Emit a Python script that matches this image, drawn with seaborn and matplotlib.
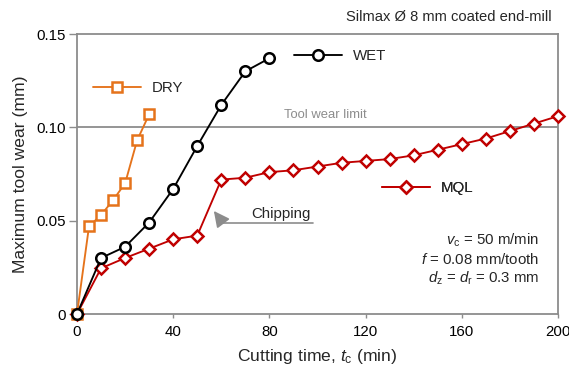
import matplotlib
matplotlib.use("Agg")
import matplotlib.pyplot as plt
import seaborn as sns
import pandas as pd
from matplotlib.lines import Line2D

# ---- data ----
dry_t = [0, 5, 10, 15, 20, 25, 30]
dry_w = [0, 0.047, 0.053, 0.061, 0.070, 0.093, 0.107]

wet_t = [0, 10, 20, 30, 40, 50, 60, 70, 80]
wet_w = [0, 0.030, 0.036, 0.049, 0.067, 0.090, 0.112, 0.130, 0.137]

mql_t = [0, 10, 20, 30, 40, 50, 60, 70, 80, 90, 100, 110, 120, 130, 140, 150,
         160, 170, 180, 190, 200]
mql_w = [0, 0.0245, 0.030, 0.035, 0.040, 0.042, 0.072, 0.073, 0.076, 0.077,
         0.079, 0.081, 0.082, 0.083, 0.085, 0.088, 0.091, 0.094, 0.098, 0.102,
         0.106]

x_ticks = [0, 40, 80, 120, 160, 200]
y_ticks = [0, 0.05, 0.10, 0.15]
y_tick_labels = ["0", "0.05", "0.10", "0.15"]
wear_limit = 0.10

# ---- style ----
sns.set_theme(style="white")
plt.rcParams["font.family"] = ["Liberation Sans", "DejaVu Sans"]
plt.rcParams["mathtext.fontset"] = "custom"
plt.rcParams["mathtext.rm"] = "Liberation Sans"
plt.rcParams["mathtext.it"] = "Liberation Sans:italic"
plt.rcParams["mathtext.bf"] = "Liberation Sans:bold"

ORANGE = "#E5731B"
RED = "#C00000"
BLACK = "#000000"
GRAY = "#8C8C8C"
FS = 10.8

fig = plt.figure(figsize=(5.69, 3.74), dpi=100)
ax = fig.add_axes([77 / 569, 60 / 374, 481 / 569, 280 / 374])

lw = 1.35
mew = 1.8

# tool wear limit line
ax.axhline(wear_limit, color=GRAY, lw=1.3, zorder=1)

df_mql = pd.DataFrame({"t": mql_t, "w": mql_w})
df_dry = pd.DataFrame({"t": dry_t, "w": dry_w})
df_wet = pd.DataFrame({"t": wet_t, "w": wet_w})

sns.lineplot(data=df_mql, x="t", y="w", ax=ax, color=RED, lw=lw, marker="D",
             markersize=6.2, markerfacecolor="white", markeredgecolor=RED,
             markeredgewidth=mew, clip_on=False, zorder=3)
sns.lineplot(data=df_dry, x="t", y="w", ax=ax, color=ORANGE, lw=lw, marker="s",
             markersize=7, markerfacecolor="white", markeredgecolor=ORANGE,
             markeredgewidth=mew, clip_on=False, zorder=4)
sns.lineplot(data=df_wet, x="t", y="w", ax=ax, color=BLACK, lw=lw, marker="o",
             markersize=7.6, markerfacecolor="white", markeredgecolor=BLACK,
             markeredgewidth=mew, clip_on=False, zorder=5)

ax.set_xlim(0, 200)
ax.set_ylim(0, 0.15)
ax.set_xticks(x_ticks)
ax.set_xticklabels([str(v) for v in x_ticks])
ax.set_yticks(y_ticks)
ax.set_yticklabels(y_tick_labels)

for s in ax.spines.values():
    s.set_color(GRAY)
    s.set_linewidth(1.3)
    s.set_visible(True)

ax.tick_params(axis="x", direction="out", length=3, width=1.0, color=GRAY,
               pad=5, labelsize=FS, labelcolor="black", bottom=True)
ax.tick_params(axis="y", direction="out", length=6, width=1.0, color=GRAY,
               pad=2, labelsize=FS, labelcolor="black", left=True)

ax.set_xlabel(r"Cutting time, $t_\mathrm{c}$ (min)", fontsize=12.6, labelpad=6)
ax.set_ylabel("Maximum tool wear (mm)", fontsize=12.6, labelpad=6)

# legends (inline labels)
def inline_legend(color, marker, ms, label, x, y):
    h = Line2D([], [], color=color, lw=lw, marker=marker, markersize=ms,
               markerfacecolor="white", markeredgecolor=color,
               markeredgewidth=mew)
    leg = ax.legend([h], [label], loc="center left", bbox_to_anchor=(x, y),
                    frameon=False, fontsize=FS, handlelength=3.2,
                    handletextpad=0.7, borderpad=0, borderaxespad=0)
    ax.add_artist(leg)

inline_legend(ORANGE, "s", 7, "DRY", (93 - 77) / 481, (314 - 88) / 280)
inline_legend(BLACK, "o", 7.6, "WET", (294 - 77) / 481, (314 - 56) / 280)
inline_legend(RED, "D", 6.2, "MQL", (382 - 77) / 481, (314 - 188) / 280)

# tool wear limit text
ax.text(103.2, 0.1065, "Tool wear limit", color=GRAY, fontsize=9.4,
        ha="center", va="center")

# chipping annotation
ax.plot([60.4, 98.3], [0.0489, 0.0489], color=GRAY, lw=1.2, zorder=2)
ax.annotate("", xy=(56.9, 0.0552), xytext=(60.6, 0.0489),
            arrowprops=dict(arrowstyle="-|>,head_length=0.8,head_width=0.4",
                            color=GRAY, lw=1.2, shrinkA=0, shrinkB=0))
ax.text(72.5, 0.0535, "Chipping", fontsize=FS, ha="left", va="center")

# conditions
ax.text(0.9605, 0.262, r"$v_\mathrm{c}$ = 50 m/min", transform=ax.transAxes,
        fontsize=FS, ha="right", va="center")
ax.text(0.9605, 0.195, r"$f$ = 0.08 mm/tooth", transform=ax.transAxes,
        fontsize=FS, ha="right", va="center")
ax.text(0.9605, 0.1275, r"$d_\mathrm{z}$ = $d_\mathrm{r}$ = 0.3 mm",
        transform=ax.transAxes, fontsize=FS, ha="right", va="center")

# title
ax.text((551.7 - 77) / 481, (314 - 16.7) / 280,
        "Silmax Ø 8 mm coated end-mill", transform=ax.transAxes,
        fontsize=10.6, ha="right", va="center")

fig.savefig("out.png", dpi=100)
